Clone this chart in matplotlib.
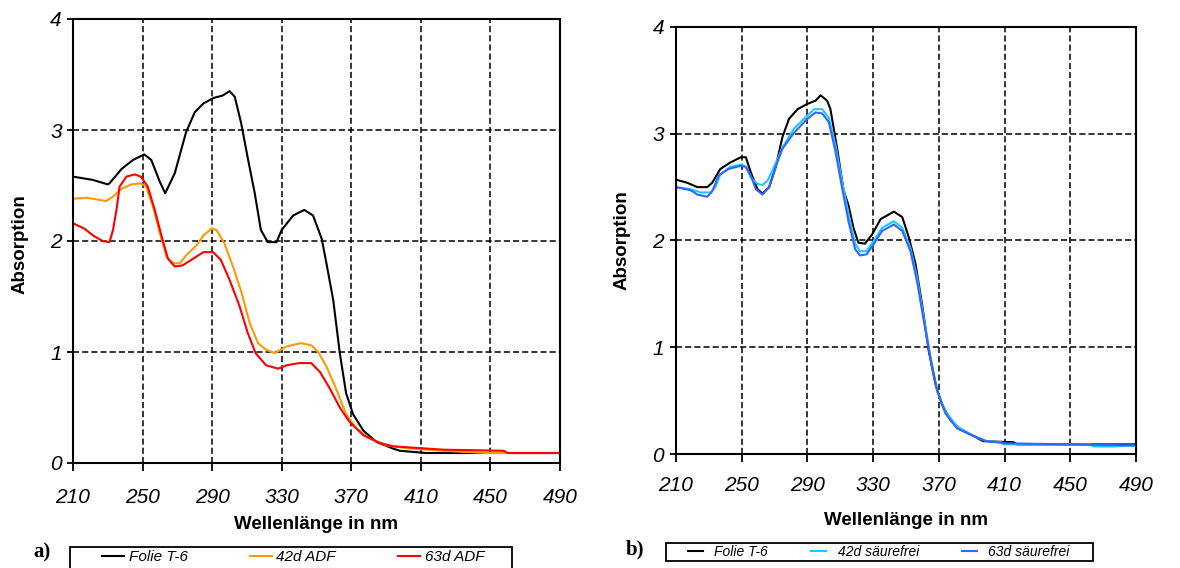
import matplotlib.pyplot as plt
from matplotlib.patches import Rectangle

plt.rcParams['font.family'] = ['Liberation Sans', 'DejaVu Sans']

# ---- panel a: Folie T-6 / 42d ADF / 63d ADF ----
a_t6_x = [210, 221.5, 230, 231, 238, 244.5, 251, 255, 260, 263, 268.5, 275, 280, 285, 291, 296,
          300, 303, 306.7, 310.7, 314.5, 318, 322, 327, 330, 336.6, 343, 348, 353, 355.7, 359.6,
          363.4, 367, 371, 377, 384.5, 394, 398, 413, 452, 490]
a_t6_y = [2.58, 2.55, 2.51, 2.52, 2.65, 2.73, 2.78, 2.73, 2.53, 2.43, 2.61, 2.98, 3.16, 3.24, 3.29,
          3.31, 3.35, 3.30, 3.06, 2.73, 2.43, 2.10, 1.99, 1.99, 2.10, 2.23, 2.28, 2.23, 2.02, 1.80,
          1.47, 0.99, 0.63, 0.44, 0.29, 0.19, 0.13, 0.11, 0.09, 0.09, 0.09]

a_42_x = [210, 217.7, 229, 233, 238, 243.6, 249, 252, 256, 260, 263.7, 267.5, 271.5, 275, 281, 285,
          289.6, 292.5, 297, 302, 307, 311.6, 316.4, 321, 326, 332.7, 341, 347, 351, 355.7, 361.5,
          367, 373, 380.7, 390, 403.7, 423, 448, 490]
a_42_y = [2.38, 2.39, 2.36, 2.40, 2.47, 2.51, 2.52, 2.49, 2.31, 2.07, 1.86, 1.80, 1.80, 1.87, 1.96,
          2.05, 2.11, 2.10, 1.98, 1.77, 1.53, 1.26, 1.08, 1.02, 0.99, 1.05, 1.08, 1.06, 1.00, 0.87,
          0.66, 0.44, 0.31, 0.22, 0.16, 0.13, 0.11, 0.09, 0.09]

a_63_x = [210, 216.7, 221.5, 227, 231, 233, 235, 236.8, 240.7, 245.5, 249, 253, 257, 261, 264.6,
          268.5, 273, 279, 285, 290.5, 295, 300, 305.6, 310.5, 315, 321, 328, 332.7, 340, 347, 352,
          357.7, 363.4, 369, 377, 386.5, 394, 403.7, 423, 457.7, 460, 490]
a_63_y = [2.16, 2.11, 2.05, 2.00, 1.99, 2.10, 2.28, 2.49, 2.58, 2.60, 2.58, 2.49, 2.28, 2.04, 1.84,
          1.77, 1.78, 1.84, 1.90, 1.90, 1.83, 1.65, 1.42, 1.17, 0.99, 0.88, 0.85, 0.88, 0.90, 0.90,
          0.82, 0.67, 0.50, 0.37, 0.25, 0.18, 0.15, 0.14, 0.12, 0.11, 0.09, 0.09]

# ---- panel b: Folie T-6 / 42d säurefrei / 63d säurefrei ----
b_t6_x = [210, 217, 223, 229, 232, 237, 243, 249.5, 252.5, 255.5, 259.6, 262.6, 266.7, 270.7, 274.8,
          278.8, 284, 290, 295, 298, 302, 304, 308, 312, 315, 318, 321, 325, 329.5, 334.5, 342.6,
          347.7, 351.7, 355.8, 359.8, 363.9, 368, 372, 377, 383, 391, 397, 415.5, 417.5, 476, 490]
b_t6_y = [2.57, 2.54, 2.50, 2.50, 2.54, 2.67, 2.73, 2.78, 2.78, 2.64, 2.48, 2.44, 2.50, 2.69, 2.97,
          3.14, 3.23, 3.28, 3.31, 3.36, 3.31, 3.23, 2.87, 2.47, 2.33, 2.12, 1.98, 1.97, 2.06, 2.20,
          2.27, 2.22, 2.03, 1.78, 1.40, 0.96, 0.65, 0.46, 0.32, 0.23, 0.17, 0.12, 0.11, 0.09, 0.09, 0.09]

b_42_x = [210, 219, 225, 231, 234, 237, 243, 249.5, 252.5, 255.5, 259.6, 262.6, 265.7, 269.7, 274.8,
          281.9, 290, 294, 299, 303, 307, 311, 315, 319, 322, 326, 330.5, 335.5, 342.6, 347.7, 352.7,
          356.8, 360.8, 365, 369, 374, 381, 391, 399, 408, 409, 462, 464, 476, 490]
b_42_y = [2.50, 2.48, 2.45, 2.45, 2.50, 2.62, 2.69, 2.71, 2.69, 2.59, 2.53, 2.52, 2.56, 2.69, 2.87,
          3.05, 3.17, 3.23, 3.23, 3.15, 2.90, 2.56, 2.25, 1.97, 1.90, 1.90, 2.00, 2.12, 2.18, 2.12,
          1.93, 1.65, 1.28, 0.90, 0.59, 0.40, 0.26, 0.17, 0.12, 0.11, 0.09, 0.09, 0.07, 0.07, 0.08]

b_63_x = [210, 219, 223, 229, 232, 236, 242, 249.5, 252.5, 255.5, 258.6, 262.6, 266.7, 270.7, 274.8,
          281.9, 290, 295, 299, 303, 307, 311, 315, 319, 322, 326, 330.5, 335.5, 342.6, 347.7, 352.7,
          356.8, 360.8, 365, 369, 374, 381, 391, 399, 411, 490]
b_63_y = [2.50, 2.47, 2.43, 2.41, 2.46, 2.61, 2.67, 2.70, 2.69, 2.61, 2.48, 2.43, 2.50, 2.69, 2.86,
          3.01, 3.14, 3.20, 3.19, 3.11, 2.84, 2.50, 2.18, 1.92, 1.86, 1.87, 1.97, 2.09, 2.15, 2.09,
          1.90, 1.61, 1.25, 0.89, 0.59, 0.38, 0.24, 0.17, 0.12, 0.10, 0.08]

xticks = [210, 250, 290, 330, 370, 410, 450, 490]
yticks = [0, 1, 2, 3, 4]
labels_a = ['Folie T-6', '42d ADF', '63d ADF']
labels_b = ['Folie T-6', '42d säurefrei', '63d säurefrei']

W, H = 1180, 568
fig = plt.figure(figsize=(W / 100, H / 100), dpi=100)


def style_axes(ax, xpad, ypad):
    ax.set_xlim(210, 490)
    ax.set_ylim(0, 4)
    ax.set_xticks(xticks)
    ax.set_yticks(yticks)
    ax.grid(True, color='black', linestyle=(0, (4, 2)), linewidth=1.1)
    for s in ax.spines.values():
        s.set_linewidth(1.5)
        s.set_color('black')
    ax.tick_params(axis='x', direction='out', length=6, width=1.3, pad=xpad, labelsize=15)
    ax.tick_params(axis='y', direction='out', length=4.5, width=1.3, pad=ypad, labelsize=15)
    for lab in ax.get_xticklabels() + ax.get_yticklabels():
        lab.set_fontstyle('italic')
    ax.set_xlabel('Wellenlänge in nm', fontsize=13.5, fontweight='bold')
    ax.set_ylabel('Absorption', fontsize=13.5, fontweight='bold')
    ax.xaxis.label.set_va('center')
    ax.yaxis.label.set_va('center')


# panel a
axa = fig.add_axes([73 / W, (H - 463) / H, 487 / W, 444 / H])
la1, = axa.plot(a_t6_x, a_t6_y, color='black', lw=1.5)
la2, = axa.plot(a_42_x, a_42_y, color='#FF9900', lw=1.5)
la3, = axa.plot(a_63_x, a_63_y, color='#FF0000', lw=1.5)
style_axes(axa, 12, 3.5)
axa.xaxis.set_label_coords(0.5, -0.1396)
axa.yaxis.set_label_coords(-0.1088, 0.493)

# panel b
axb = fig.add_axes([676 / W, (H - 454) / H, 460 / W, 427 / H])
lb1, = axb.plot(b_t6_x, b_t6_y, color='black', lw=1.5)
lb2, = axb.plot(b_42_x, b_42_y, color='#1EC8FF', lw=1.5)
lb3, = axb.plot(b_63_x, b_63_y, color='#3366FF', lw=1.5)
style_axes(axb, 10, 4)
axb.xaxis.set_label_coords(0.5, -0.1546)
axb.yaxis.set_label_coords(-0.117, 0.501)

# legend boxes under the panels
fig.add_artist(Rectangle((70 / W, 1 - 578 / H), 442 / W, 31 / H, transform=fig.transFigure,
                         facecolor='white', edgecolor='black', lw=1.3, zorder=1))
fig.add_artist(Rectangle((666 / W, 1 - 561 / H), 427 / W, 18 / H, transform=fig.transFigure,
                         facecolor='white', edgecolor='black', lw=1.3, zorder=1))

leg_a = fig.legend([la1, la2, la3], labels_a, ncol=3, loc='center left', frameon=False,
                   bbox_to_anchor=(102 / W, 1 - 557 / H), borderpad=0, borderaxespad=0,
                   handlelength=1.45, handletextpad=0.3, columnspacing=4.05,
                   prop={'size': 11, 'style': 'italic'})
leg_b = fig.legend([lb1, lb2, lb3], labels_b, ncol=3, loc='center left', frameon=False,
                   bbox_to_anchor=(688 / W, 1 - 552 / H), borderpad=0, borderaxespad=0,
                   handlelength=1.1, handletextpad=0.8, columnspacing=3.1,
                   prop={'size': 10, 'style': 'italic'})
leg_a.set_zorder(5)
leg_b.set_zorder(5)

fig.text(42 / W, 1 - 552 / H, 'a)', family='Liberation Serif', fontweight='bold', fontsize=15,
         ha='center', va='center')
fig.text(635 / W, 1 - 549 / H, 'b)', family='Liberation Serif', fontweight='bold', fontsize=15,
         ha='center', va='center')

fig.savefig('out.png', dpi=100)
